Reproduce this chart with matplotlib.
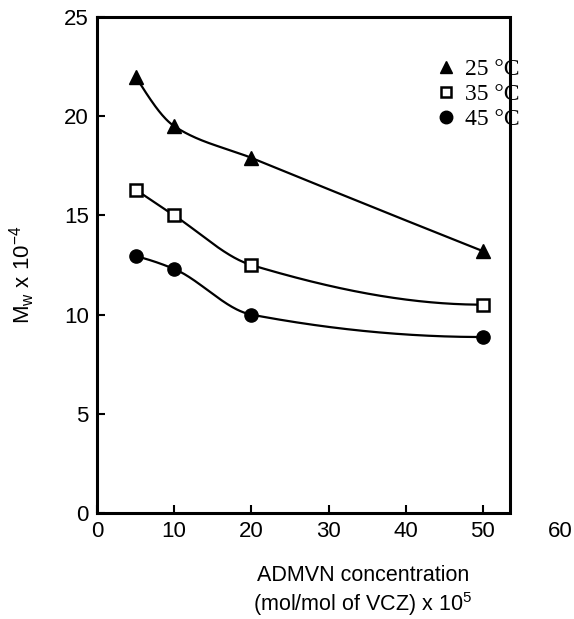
import numpy as np
import matplotlib.pyplot as plt
from matplotlib.lines import Line2D

# données
concentration = [5, 10, 20, 50]
mw_25 = [22.0, 19.5, 17.9, 13.2]
mw_35 = [16.3, 15.0, 12.5, 10.5]
mw_45 = [12.95, 12.3, 10.0, 8.87]
legende = ["25 °C", "35 °C", "45 °C"]
xticks = [0, 10, 20, 30, 40, 50, 60]
yticks = [0, 5, 10, 15, 20, 25]

plt.rcParams["mathtext.fontset"] = "custom"
plt.rcParams["mathtext.rm"] = "Liberation Sans"
plt.rcParams["mathtext.it"] = "Liberation Sans:italic"


def pchip(x, y, xs):
    """
    Interpolation cubique monotone (Fritsch-Carlson), pour tracer des courbes lisses
    """
    x = np.asarray(x, float)
    y = np.asarray(y, float)
    h = np.diff(x)
    d = np.diff(y) / h
    n = len(x)
    m = np.zeros(n)
    for k in range(1, n - 1):
        if d[k - 1] * d[k] > 0:
            w1 = 2 * h[k] + h[k - 1]
            w2 = h[k] + 2 * h[k - 1]
            m[k] = (w1 + w2) / (w1 / d[k - 1] + w2 / d[k])
    # extrémités
    m0 = ((2 * h[0] + h[1]) * d[0] - h[0] * d[1]) / (h[0] + h[1])
    if np.sign(m0) != np.sign(d[0]):
        m0 = 0
    m[0] = m0
    mn = ((2 * h[-1] + h[-2]) * d[-1] - h[-1] * d[-2]) / (h[-1] + h[-2])
    if np.sign(mn) != np.sign(d[-1]):
        mn = 0
    m[-1] = mn

    ys = np.empty_like(xs)
    for i, xv in enumerate(xs):
        k = min(np.searchsorted(x, xv, side="right") - 1, n - 2)
        k = max(k, 0)
        t = (xv - x[k]) / h[k]
        h00 = 2 * t**3 - 3 * t**2 + 1
        h10 = t**3 - 2 * t**2 + t
        h01 = -2 * t**3 + 3 * t**2
        h11 = t**3 - t**2
        ys[i] = h00 * y[k] + h10 * h[k] * m[k] + h01 * y[k + 1] + h11 * h[k] * m[k + 1]
    return ys


fig = plt.figure(figsize=(5.74, 6.19), dpi=100)
ax = fig.add_axes([97 / 574, 1 - 513 / 619, 463 / 574, 496 / 619])

xs = np.linspace(5, 50, 300)
for serie in (mw_25, mw_35, mw_45):
    ax.plot(xs, pchip(concentration, serie, xs), color="black", lw=1.6)

ax.plot(concentration, mw_25, "^", color="black", ms=10, ls="none")
ax.plot(concentration, mw_35, "s", mfc="white", mec="black", mew=1.8, ms=8, ls="none")
ax.plot(concentration, mw_45, "o", color="black", ms=9.5, ls="none")

ax.set_xlim(0, 60)
ax.set_ylim(0, 25)
ax.set_xticks(xticks)
ax.set_yticks(yticks)

police = "Liberation Sans"
for lab in ax.get_xticklabels() + ax.get_yticklabels():
    lab.set_fontfamily(police)
    lab.set_fontsize(16)
ax.tick_params(direction="in", length=6, width=1.5, pad=6)
ax.xaxis.get_major_ticks()[-1].tick1line.set_visible(False)

# le cadre s'arrête avant x = 60
for cote in ("top", "right", "bottom"):
    ax.spines[cote].set_visible(False)
ax.spines["left"].set_linewidth(2.2)
xdroite = 53.5
ax.plot([0, xdroite, xdroite, 0], [25, 25, 0, 0], color="black", lw=2.2,
        clip_on=False, solid_joinstyle="miter")

ax.set_xlabel("ADMVN concentration\n(mol/mol of VCZ) x 10$^5$", fontsize=15.5,
              fontfamily=police, linespacing=1.2)
ax.xaxis.set_label_coords(0.574, -0.105)
ax.set_ylabel("M$_\\mathrm{w}$ x 10$^{-4}$", fontsize=16, fontfamily=police)
ax.yaxis.set_label_coords(-0.13, 0.48)

poignees = [
    Line2D([], [], marker="^", color="black", ls="none", ms=9),
    Line2D([], [], marker="s", mfc="white", mec="black", mew=1.8, ls="none", ms=7.5),
    Line2D([], [], marker="o", color="black", ls="none", ms=9),
]
ax.legend(poignees, legende, loc="upper left", bbox_to_anchor=(0.702, 0.94),
          frameon=False, handlelength=1.0, handletextpad=0.3, labelspacing=0.15,
          borderpad=0, prop={"family": "Liberation Serif", "size": 17})

fig.savefig("out.png", dpi=100)
